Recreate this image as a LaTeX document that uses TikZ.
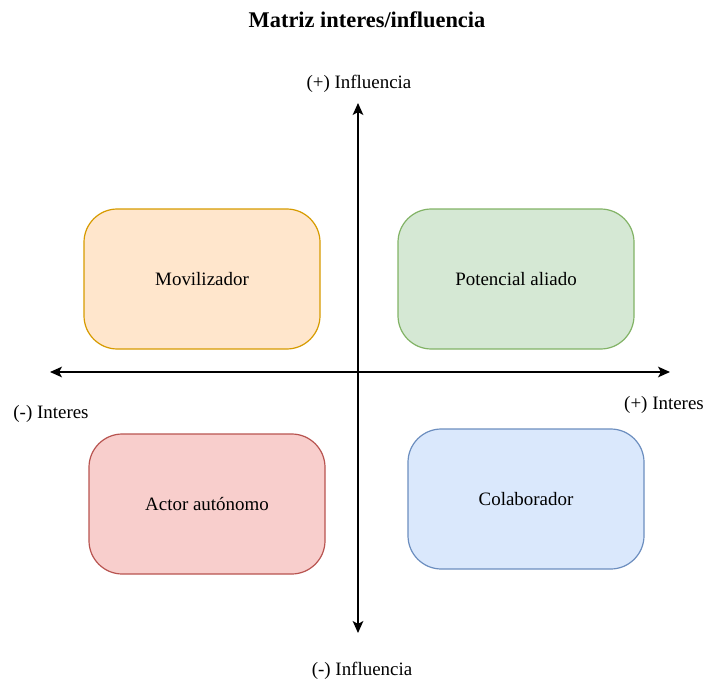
\documentclass[tikz,border=0pt]{standalone}
\usepackage{fontspec}
\setmainfont{Liberation Serif}
\usetikzlibrary{arrows.meta}
\definecolor{orfill}{HTML}{FFE6CC}\definecolor{ordraw}{HTML}{D79B00}
\definecolor{grfill}{HTML}{D5E8D4}\definecolor{grdraw}{HTML}{82B366}
\definecolor{rdfill}{HTML}{F8CECC}\definecolor{rddraw}{HTML}{B85450}
\definecolor{blfill}{HTML}{DAE8FC}\definecolor{bldraw}{HTML}{6C8EBF}
\tikzset{
  quad/.style={rectangle, rounded corners=25pt, minimum width=177pt, minimum height=105pt, line width=0.9pt, font=\fontsize{14.2}{17}\selectfont, inner sep=0pt},
  lbl/.style={font=\fontsize{14.2}{17}\selectfont, inner sep=0pt},
  axis/.style={line width=1.1pt, black, >={Stealth[length=9pt, width=8pt, inset=2.2pt]}}
}
\begin{document}
\begin{tikzpicture}[x=0.75pt,y=-0.75pt]
\useasboundingbox (0,0) rectangle (706,681);
\node[font=\bfseries\fontsize{16.8}{20}\selectfont, inner sep=0pt] (title) at (367,20) {Matriz interes/influencia};
\coordinate (vt) at (358,103);
\coordinate (vb) at (358,633);
\coordinate (hl) at (50,372);
\coordinate (hr) at (670,372);
\node[quad, fill=orfill, draw=ordraw] (mov) at (202,279) {Movilizador};
\node[quad, fill=grfill, draw=grdraw] (pot) at (516,279) {Potencial aliado};
\node[quad, fill=rdfill, draw=rddraw] (act) at (207,504) {Actor autónomo};
\node[quad, fill=blfill, draw=bldraw] (col) at (526,499) {Colaborador};
\draw[axis, <->] (vb) -- (vt);
\draw[axis, <->] (hl) -- (hr);
\node[lbl] (infp) at (359,84) {(+) Influencia};
\node[lbl] (infm) at (362,671) {(-) Influencia};
\node[lbl] (intm) at (51,414) {(-) Interes};
\node[lbl] (intp) at (664,405) {(+) Interes};
\end{tikzpicture}
\end{document}
